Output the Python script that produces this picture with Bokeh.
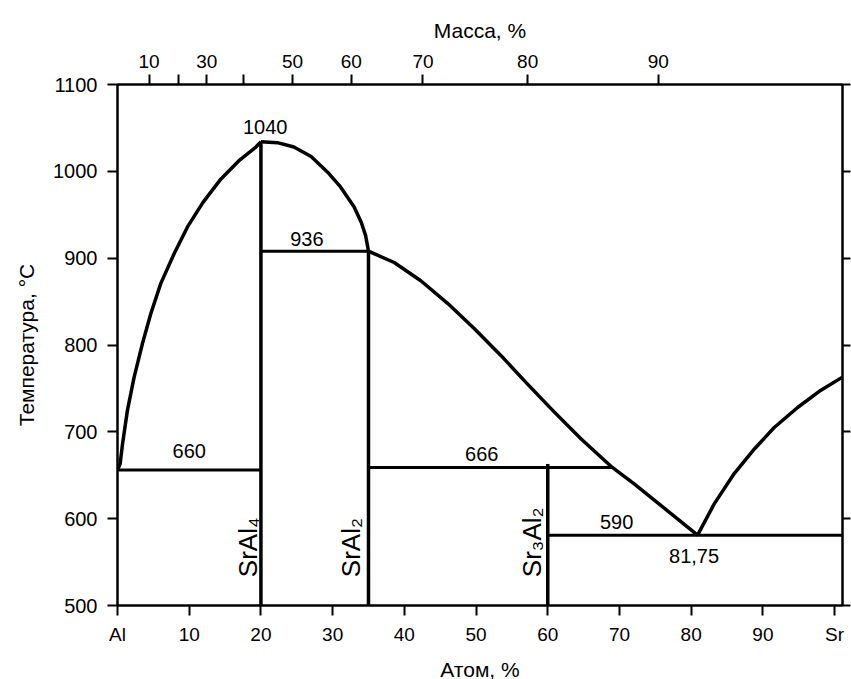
import math
from bokeh.plotting import figure
from bokeh.models import LinearAxis, FixedTicker, Range1d, CustomLabelingPolicy
from bokeh.core.properties import value
from bokeh.embed import file_html
from bokeh.resources import INLINE

FONT = "Liberation Sans"

# ---- data (x: atomic % Sr, t: temperature, °C) ----
left_liq_x = [0, 0.36, 0.70, 1.39, 2.32, 3.49, 4.64, 6.04, 7.89, 9.76, 11.9, 14.4, 16.9, 19.3, 20.0]
left_liq_t = [656, 663, 686, 725, 763, 802, 836, 871, 905, 936, 964, 991, 1012, 1028, 1034]

dome_x = [20.0, 22.3, 24.6, 27.0, 29.3, 31.1, 33.0, 34.0, 34.6, 35.0]
dome_t = [1034, 1033, 1028, 1017, 999, 982, 959, 941, 926, 908]

mid_liq_x = [35.0, 38.58, 42.30, 46.03, 49.74, 53.46, 57.18, 60.89, 64.62, 69.0, 72.05, 76.71, 80.89]
mid_liq_t = [908, 895, 874, 848, 819, 788, 755, 723, 692, 659, 640, 609, 581]

right_liq_x = [80.89, 83.21, 86.00, 88.79, 91.58, 94.84, 98.09, 101.1]
right_liq_t = [581, 617, 652, 680, 705, 728, 748, 763]

# compounds: composition and top of the vertical line
comp_x = [20, 35, 60]
comp_top = [1034, 908, 663]
comp_names = ["SrAl\u2084", "SrAl\u2082", "Sr\u2083Al\u2082"]
comp_label_x = [18.13, 32.54, 57.78]
comp_label_y = [532.6, 532.6, 532.6]

# isotherms
iso_x0 = [0, 20, 35, 60]
iso_x1 = [20, 35, 69.0, 101.1]
iso_t = [656, 908, 659, 581]

# value labels
num_text = ["1040", "936", "660", "666", "590", "81,75"]
num_x = [20.6, 26.4, 10.0, 50.8, 69.6, 80.4]
num_y = [1050.7, 922.5, 677.6, 674.8, 596.0, 556.7]

# axes
atom_ticks = [0, 10, 20, 30, 40, 50, 60, 70, 80, 90, 100]
atom_labels = ["Al", "10", "20", "30", "40", "50", "60", "70", "80", "90", "Sr"]
mass_ticks = [4.4, 8.45, 12.45, 17.6, 24.4, 32.6, 42.6, 57.2, 75.4]
mass_labels = ["10", "20", "30", "40", "50", "60", "70", "80", "90"]
mass_hidden = [1, 3]  # ticks drawn without a label
temp_ticks = [500, 600, 700, 800, 900, 1000, 1100]

p = figure(frame_width=725, frame_height=521,
           x_range=Range1d(0, 101.1), y_range=Range1d(500, 1100),
           output_backend="svg", toolbar_location=None,
           x_axis_location=None, y_axis_location=None,
           min_border_left=117, min_border_right=9,
           min_border_top=84, min_border_bottom=74)
p.xgrid.visible = False
p.ygrid.visible = False
p.outline_line_color = "black"
p.outline_line_width = 2
p.background_fill_color = "white"
p.border_fill_color = "white"


def style(ax, size="19px"):
    ax.axis_line_color = "black"
    ax.axis_line_width = 2
    ax.major_tick_line_color = "black"
    ax.major_tick_line_width = 2
    ax.major_tick_out = 10
    ax.major_tick_in = 0
    ax.minor_tick_out = 0
    ax.minor_tick_in = 0
    ax.major_label_text_font = FONT
    ax.major_label_text_font_size = size
    ax.major_label_text_color = "black"
    ax.axis_label_text_font = FONT
    ax.axis_label_text_font_size = "21px"
    ax.axis_label_text_font_style = "normal"
    ax.axis_label_text_color = "black"


bottom = LinearAxis(ticker=FixedTicker(ticks=atom_ticks), axis_label="Атом, %")
bottom.major_label_overrides = {t: l for t, l in zip(atom_ticks, atom_labels)}
style(bottom)
bottom.major_label_standoff = 8
bottom.axis_label_standoff = 10
p.add_layout(bottom, "below")

top = LinearAxis(ticker=FixedTicker(ticks=mass_ticks), axis_label="Масса, %")
top.major_label_overrides = {t: l for t, l in zip(mass_ticks, mass_labels)}
top.major_label_policy = CustomLabelingPolicy(
    args=dict(hidden=mass_hidden),
    code="for (const i of hidden) { indices.unset(i) }\nreturn indices")
style(top)
top.major_label_standoff = 7
top.axis_label_standoff = 10
p.add_layout(top, "above")

left = LinearAxis(ticker=FixedTicker(ticks=temp_ticks), axis_label="Температура, °С")
style(left, "20px")
left.major_label_standoff = 10
left.axis_label_standoff = 12
p.add_layout(left, "left")

right = LinearAxis(ticker=FixedTicker(ticks=temp_ticks))
style(right)
right.major_tick_out = 8
right.major_label_standoff = 0
right.major_label_policy = CustomLabelingPolicy(
    code="for (const i of Array.from(indices)) { indices.unset(i) }\nreturn indices")
p.add_layout(right, "right")

LW = 3.5
p.line(left_liq_x, left_liq_t, line_color="black", line_width=LW, line_join="round")
p.line(dome_x, dome_t, line_color="black", line_width=LW, line_join="round")
p.line(mid_liq_x, mid_liq_t, line_color="black", line_width=LW, line_join="round")
p.line(right_liq_x, right_liq_t, line_color="black", line_width=LW, line_join="round")

p.segment(x0=comp_x, y0=[500] * len(comp_x), x1=comp_x, y1=comp_top,
          line_color="black", line_width=3.5)
p.segment(x0=iso_x0, y0=iso_t, x1=iso_x1, y1=iso_t, line_color="black", line_width=3)

p.text(x=num_x, y=num_y, text=num_text, text_font=value(FONT), text_font_size="20px",
       text_align="center", text_baseline="middle", text_color="black")

p.text(x=comp_label_x, y=comp_label_y, text=comp_names, angle=math.pi / 2,
       text_font=value(FONT), text_font_size="26px",
       text_align="left", text_baseline="alphabetic", text_color="black")

open("out.html", "w").write(file_html(p, INLINE))
